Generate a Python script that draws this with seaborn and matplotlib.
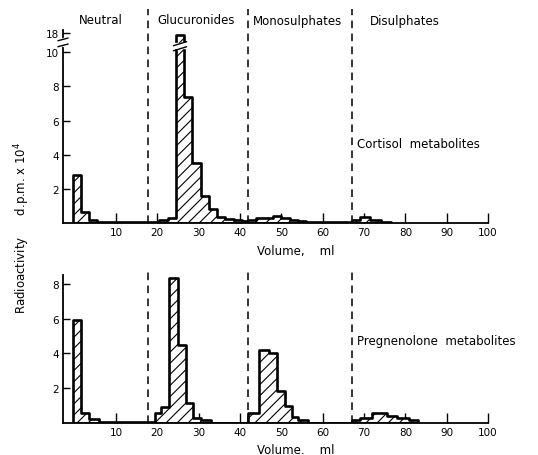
import numpy as np
import pandas as pd
import matplotlib
matplotlib.use("Agg")
import matplotlib.pyplot as plt
import matplotlib.transforms as mtransforms
import seaborn as sns

# ---------------- data ----------------
regions = ["Neutral", "Glucuronides", "Monosulphates", "Disulphates"]
region_bounds = [17.8, 42.0, 67.1]          # ml, dashed separators
x_ticks = [10, 20, 30, 40, 50, 60, 70, 80, 90, 100]

# Cortisol metabolites: fraction edges (ml) and radioactivity (d.p.m. x 10^4)
cort_edges = [-0.5, 1.5, 3.5, 5.5, 20.5, 22.5, 24.5, 26.5, 28.5, 30.5, 32.5,
              34.5, 36.5, 38.5, 40.5, 42, 44, 46, 48, 50, 52, 54, 56, 67, 69,
              71.5, 74, 76.5]
cort_act = [2.8, 0.65, 0.15, 0.04, 0.15, 0.3, 18.0, 7.4, 3.5, 1.6, 0.8,
            0.35, 0.25, 0.15, 0.1, 0.2, 0.3, 0.3, 0.4, 0.3, 0.2, 0.1, 0.03,
            0.2, 0.35, 0.2, 0.08]

# Pregnenolone metabolites
preg_edges = [-0.5, 1.5, 3.5, 6, 19.5, 21, 22.75, 25, 27, 28.75, 30.5, 33,
              42, 44.5, 47, 49, 51, 52.5, 54, 56.5, 67, 69, 72, 75.5, 78, 81, 83]
preg_act = [5.9, 0.6, 0.25, 0.08, 0.55, 0.9, 8.3, 4.5, 1.15, 0.3, 0.18, 0.0,
            0.6, 4.2, 4.0, 1.85, 1.0, 0.35, 0.2, 0.0,
            0.2, 0.3, 0.55, 0.4, 0.3, 0.15]

cort_yticks = [2, 4, 6, 8, 10]
cort_break_label = "18"
preg_yticks = [2, 4, 6, 8]

# ---------------- style ----------------
sns.set_theme(style="ticks", rc={
    "axes.edgecolor": "black", "axes.linewidth": 1.3,
    "xtick.color": "black", "ytick.color": "black",
    "text.color": "black", "axes.labelcolor": "black",
    "hatch.linewidth": 0.8, "hatch.color": "black",
})
plt.rcParams["font.family"] = ["DejaVu Sans"]

W, H = 538, 456
fig = plt.figure(figsize=(W / 100, H / 100), dpi=100)


def fx(px):
    return px / W


def fy(py):
    return 1 - py / H


ax1 = fig.add_axes([fx(63), fy(224), fx(488) - fx(63), fy(31) - fy(224)])
ax2 = fig.add_axes([fx(63), fy(424), fx(488) - fx(63), fy(276) - fy(424)])

CAP = 11.0   # visible height of the broken (off-scale) bar


def draw_panel(ax, edges, act, ytop, yticks, ylabels, dash_top):
    edges = [float(e) for e in edges]
    act = np.asarray(act, float)
    centers = [(a + b) / 2 for a, b in zip(edges[:-1], edges[1:])]
    df = pd.DataFrame({"volume": centers, "shown": np.minimum(act, CAP)})
    sns.histplot(data=df, x="volume", weights="shown", bins=edges,
                 stat="count", element="step", fill=True, ax=ax,
                 facecolor="white", edgecolor="black", linewidth=1.9,
                 hatch="///", alpha=1)
    ax.set_xlim(-2.8, 100)
    ax.set_ylim(0, ytop)
    ax.set_xticks(x_ticks)
    ax.set_xticklabels([str(t) for t in x_ticks])
    ax.set_yticks(yticks)
    ax.set_yticklabels(ylabels)
    ax.tick_params(axis="both", direction="in", length=5, width=1.0,
                   labelsize=7.5, pad=3)
    ax.tick_params(axis="x", length=7)
    sns.despine(ax=ax)
    ax.set_xlabel("")
    ax.set_ylabel("")
    for b in region_bounds:
        ax.axvline(b, ymin=0, ymax=dash_top, clip_on=False, color="black",
                   lw=1.1, dashes=(5, 3.5))
    return np.asarray(edges), act


# top panel
e1, a1 = draw_panel(ax1, cort_edges, cort_act, 11.3,
                    cort_yticks + [11.1],
                    [str(t) for t in cort_yticks] + [cort_break_label], 1.11)
# break on the off-scale bar
i = int(np.argmax(a1))
x0, x1 = e1[i], e1[i + 1]
ax1.fill_between([x0 - 0.3, x1 + 0.3], 10.25, 10.55, color="white", zorder=5)
for yb in (10.2, 10.5):
    ax1.plot([x0 - 0.6, x1 + 0.6], [yb - 0.12, yb + 0.12], color="black",
             lw=1.0, zorder=6)
# break on the y axis
tr = mtransforms.blended_transform_factory(ax1.transAxes, ax1.transData)
ax1.plot([0, 0], [10.45, 10.75], color="white", lw=2.5, transform=tr,
         clip_on=False, zorder=6)
for yb in (10.4, 10.75):
    ax1.plot([-0.012, 0.012], [yb - 0.08, yb + 0.08], color="black", lw=1.0,
             transform=tr, clip_on=False, zorder=7)

# bottom panel
draw_panel(ax2, preg_edges, preg_act, 8.5, preg_yticks,
           [str(t) for t in preg_yticks], 1.05)

# ---------------- text ----------------
fs = 8.5
for name, xc in zip(regions, [101, 196, 298, 405]):
    fig.text(fx(xc), fy(21), name, ha="center", va="center", fontsize=fs)

fig.text(fx(357), fy(144), "Cortisol  metabolites", ha="left", va="center",
         fontsize=fs)
fig.text(fx(357), fy(342), "Pregnenolone  metabolites", ha="left",
         va="center", fontsize=fs)

fig.text(fx(296), fy(252), "Volume,    ml", ha="center", va="center",
         fontsize=fs)
fig.text(fx(296), fy(451), "Volume.    ml", ha="center", va="center",
         fontsize=fs)

fig.text(fx(22), fy(228), "Radioactivity      d.p.m. x 10$^4$", rotation=90,
         ha="center", va="center", fontsize=fs)

fig.savefig("out.png", dpi=100)
